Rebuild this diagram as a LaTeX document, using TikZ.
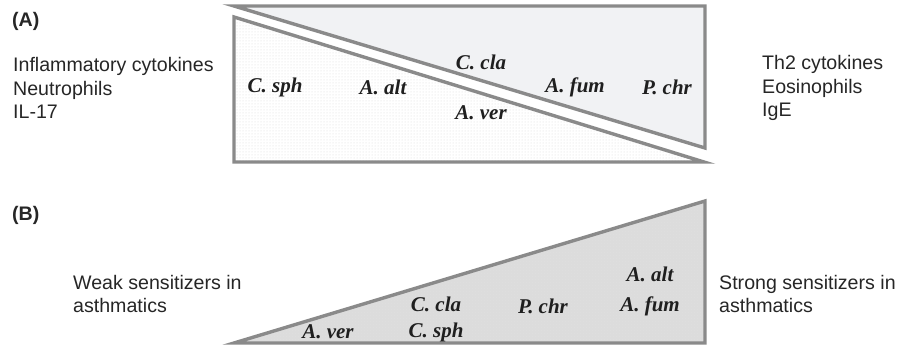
\documentclass[tikz,border=0pt]{standalone}
\usepackage{fontspec}
\setmainfont{Liberation Sans}
\newfontfamily\tnr{Liberation Serif}
\usetikzlibrary{patterns}
\definecolor{edge}{HTML}{8A8A8A}
\definecolor{pale}{HTML}{F1F2F4}
\definecolor{bfill}{HTML}{DCDCDC}
\tikzset{
  wedge/.style={draw=edge, line width=3.4pt, line join=miter},
  sp/.style={font=\tnr\fontsize{21}{22}\selectfont\bfseries\itshape, inner sep=0pt, anchor=center, text=black!88},
  side/.style={font=\fontsize{19.6}{23.5}\selectfont, align=left, inner sep=0pt, text=black!85},
  tag/.style={font=\fontsize{19.6}{23}\selectfont\bfseries, inner sep=0pt, text=black!85},
}
\begin{document}
\begin{tikzpicture}[x=1pt,y=-1pt]
\useasboundingbox (0,0) rectangle (912,347);
% Panel A
\coordinate (a1) at (234,6);
\coordinate (a2) at (705,6);
\coordinate (a3) at (705,148);
\coordinate (b1) at (234,17);
\coordinate (b2) at (234,162);
\coordinate (b3) at (704,162);
\filldraw[wedge, fill=pale] (a1) -- (a2) -- (a3) -- cycle;
\fill[white] (b1) -- (b2) -- (b3) -- cycle;
\fill[pattern=dots, pattern color=gray!30] (b1) -- (b2) -- (b3) -- cycle;
\draw[wedge] (b1) -- (b2) -- (b3) -- cycle;
\node[tag, anchor=west] (A) at (12,21) {(A)};
\node[side, anchor=west] (L1) at (13,88) {Inflammatory cytokines\\Neutrophils\\IL-17};
\node[side, anchor=west] (R1) at (762,88) {Th2 cytokines\\Eosinophils\\IgE};
\node[sp] (s1) at (275,87) {C. sph};
\node[sp] (s2) at (383,87) {A. alt};
\node[sp] (s3) at (481,62) {C. cla};
\node[sp] (s4) at (481,113) {A. ver};
\node[sp] (s5) at (575,87) {A. fum};
\node[sp] (s6) at (667,87) {P. chr};
% Panel B
\coordinate (c1) at (234,343);
\coordinate (c2) at (705,201);
\coordinate (c3) at (705,343);
\fill[bfill] (c1) -- (c2) -- (c3) -- cycle;
\fill[pattern=crosshatch dots, pattern color=white!75!gray] (c1) -- (c2) -- (c3) -- cycle;
\draw[wedge] (c1) -- (c2) -- (c3) -- cycle;
\node[tag, anchor=west] (B) at (12,215) {(B)};
\node[side, anchor=west] (L2) at (73,294) {Weak sensitizers in\\asthmatics};
\node[side, anchor=west] (R2) at (719,294) {Strong sensitizers in\\asthmatics};
\node[sp] (t1) at (328,332) {A. ver};
\node[sp] (t2) at (436,304) {C. cla};
\node[sp] (t3) at (436,332) {C. sph};
\node[sp] (t4) at (543,306) {P. chr};
\node[sp] (t5) at (650,274) {A. alt};
\node[sp] (t6) at (650,306) {A. fum};
\end{tikzpicture}
\end{document}
